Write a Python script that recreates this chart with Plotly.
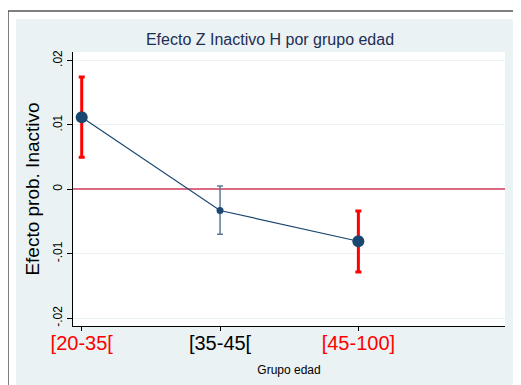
import plotly.graph_objects as go

# ---- data ----
groups = ["[20-35[", "[35-45[", "[45-100]"]
effects = [0.01118, -0.00328, -0.00805]
ci_low = [0.00497, -0.00697, -0.01282]
ci_high = [0.01743, 0.00051, -0.00338]
y_tickvals = [-0.02, -0.01, 0, 0.01, 0.02]
y_ticktext = ["-.02", "-.01", "0", ".01", ".02"]

NAVY = "#1a476f"
RED = "#ff0000"
GRAYBLUE = "#5b7a96"
BG = "#eaf2f3"

significant = [(lo > 0) or (hi < 0) for lo, hi in zip(ci_low, ci_high)]

fig = go.Figure()

# connecting line
fig.add_trace(go.Scatter(x=groups, y=effects, mode="lines",
                         line=dict(color=NAVY, width=1.2),
                         hoverinfo="skip", showlegend=False))

for g, e, lo, hi, sig in zip(groups, effects, ci_low, ci_high, significant):
    fig.add_trace(go.Scatter(
        x=[g], y=[e], mode="markers",
        marker=dict(color=NAVY, size=12 if sig else 7),
        error_y=dict(type="data", symmetric=False,
                     array=[hi - e], arrayminus=[e - lo],
                     color=RED if sig else GRAYBLUE,
                     thickness=3 if sig else 1.5, width=3),
        showlegend=False))

ticktext_x = [f"<span style='color:{RED if s else '#000000'}'>{g}</span>"
              for g, s in zip(groups, significant)]

# page has an 8px body margin: figure pixel = screen pixel - 8
OFF = 8
W, H = 521 - OFF, 385 - OFF
L, R, T, B = 73 - OFF, 505 - OFF, 52 - OFF, 326 - OFF
def px(x):  # screen px -> paper
    return (x - OFF - L) / (R - L)
def py(y):
    return (B - (y - OFF)) / (B - T)

shapes = [
    # white outer strips
    dict(type="rect", xref="paper", yref="paper", x0=px(0), x1=px(600), y0=py(19), y1=py(0),
         fillcolor="white", line=dict(width=0), layer="below"),
    dict(type="rect", xref="paper", yref="paper", x0=px(0), x1=px(16), y0=py(500), y1=py(0),
         fillcolor="white", line=dict(width=0), layer="below"),
    dict(type="rect", xref="paper", yref="paper", x0=px(518), x1=px(600), y0=py(500), y1=py(0),
         fillcolor="white", line=dict(width=0), layer="below"),
    # border lines
    dict(type="line", xref="paper", yref="paper", x0=px(8), x1=px(600), y0=py(11), y1=py(11),
         line=dict(color="#555555", width=1.5)),
    dict(type="line", xref="paper", yref="paper", x0=px(8), x1=px(8), y0=py(11), y1=py(500),
         line=dict(color="#555555", width=1.5)),
]

fig.update_layout(
    width=W, height=H,
    margin=dict(l=L, r=W - R, t=T, b=H - B, autoexpand=False),
    paper_bgcolor=BG, plot_bgcolor="white",
    font=dict(family="Liberation Sans, Arial, sans-serif", color="#000000"),
    title=dict(text="Efecto Z Inactivo H por grupo edad",
               font=dict(size=16, color="#1e2d53"),
               x=px(270), xanchor="center", xref="paper",
               y=1 - (39 - OFF) / H, yanchor="middle"),
    shapes=shapes,
    xaxis=dict(range=[-0.063, 3.06], tickvals=groups, ticktext=ticktext_x,
               showgrid=False, showline=True, linecolor="black", linewidth=1.2,
               ticks="outside", ticklen=4, tickcolor="black", ticklabelstandoff=-5,
               tickfont=dict(size=20), zeroline=False, automargin=False,
               title=dict(text="Grupo edad", font=dict(size=12), standoff=12)),
    yaxis=dict(range=[-0.0212, 0.0213], tickvals=y_tickvals, ticktext=y_ticktext,
               tickangle=-90, tickfont=dict(size=12), automargin=False,
               showgrid=True, gridcolor=BG, gridwidth=1,
               showline=True, linecolor="black", linewidth=1.2,
               ticks="outside", ticklen=5, tickcolor="black",
               zeroline=True, zerolinecolor="#dc6a83", zerolinewidth=2,
               title=dict(text="Efecto prob. Inactivo", font=dict(size=19), standoff=6)),
)

fig.write_html("out.html")
